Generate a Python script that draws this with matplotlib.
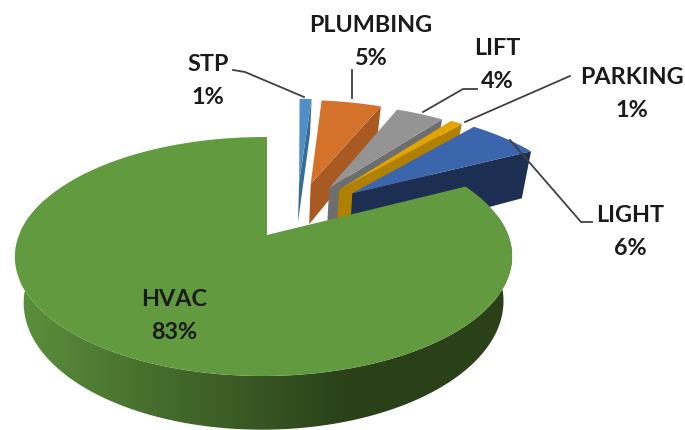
import numpy as np
import matplotlib
matplotlib.use("Agg")
import matplotlib.pyplot as plt
from matplotlib.colors import LinearSegmentedColormap
from matplotlib.patches import Polygon

labels = ["STP", "PLUMBING", "LIFT", "PARKING", "LIGHT", "HVAC"]
values = [1, 5, 4, 1, 6, 83]

top_colors = ["#4F8FC4", "#D4722C", "#949494", "#E2A400", "#3B65AD", "#629B3F"]
face_colors = ["#3A6D96", "#A85A22", "#6E6E6E", "#B08000", "#1C2E52", "#3F6326"]

# pie geometry in pixels, with a simple perspective term
cx, cy = 267, 235
rx, ry, persp, persp_x = 244.5, 115.6, 0.18, 0.014
depth, shrink = 44, 0.965
rotation = 1.5
explode_r = [0.52, 0.52, 0.52, 0.53, 0.54, 0.0]
explode_dir = [16, 22, 32, 37, 44, 0]
face_depth = [1, 1, 1, 1, 1.25, 1]

# label centres and leader lines
label_xy = [(208, 81), (371, 42), (497, 65), (632, 94), (630, 232), (174, 316)]
leaders = [
    [(233, 70), (245, 72), (304, 97)],
    [(352, 70), (352, 98)],
    [(477, 89), (463, 89), (423, 112)],
    [(570, 76), (465, 122)],
    [(510, 140), (581, 222), (592, 222)],
]


def project(u, v, bottom=0):
    w = 1 + persp * v + persp_x * u
    x = cx + rx * u / w
    y = cy - ry * v / w
    if bottom:
        x = cx + (x - cx) * shrink
        y = y + bottom * depth / w
    return x, y


def wedge(t0, t1, off_u, off_v):
    t = np.radians(np.linspace(t0, t1, max(int(abs(t1 - t0)) * 2, 8)))
    u = np.concatenate([[off_u], off_u + np.sin(t)])
    v = np.concatenate([[off_v], off_v + np.cos(t)])
    return np.column_stack(project(u, v))


fig = plt.figure(figsize=(6.85, 4.3), dpi=100)
ax = fig.add_axes([0, 0, 1, 1])
ax.axis("off")

cmap = LinearSegmentedColormap.from_list("wall", ["#5B8F3B", "#4A7330", "#3A5A24", "#2A4019"])

start = rotation
for i, val in enumerate(values):
    end = start + val * 3.6
    d = np.radians(explode_dir[i])
    off_u = explode_r[i] * np.sin(d)
    off_v = explode_r[i] * np.cos(d)

    if labels[i] == "HVAC":
        # curved outer wall, shaded from left to right
        t = np.radians(np.linspace(80, 300, 300))
        tx, ty = project(np.sin(t), np.cos(t))
        bx, by = project(np.sin(t), np.cos(t), bottom=1)
        wall = Polygon(np.column_stack([np.r_[tx, bx[::-1]], np.r_[ty, by[::-1]]]), transform=ax.transData, fc="none", ec="none")
        ax.add_patch(wall)
        grad = ax.imshow(np.clip(np.linspace(0, 1.5, 256), 0, 1)[None, :], cmap=cmap, aspect="auto",
                         extent=(20, 515, 430, 200), zorder=i + 1)
        grad.set_clip_path(wall)
        end = 360
    else:
        # cut face below the clockwise edge
        tr = np.radians(end)
        u = np.array([off_u, off_u + np.sin(tr)])
        v = np.array([off_v, off_v + np.cos(tr)])
        tx, ty = project(u, v)
        bx, by = project(u, v, bottom=face_depth[i])
        ax.fill([tx[0], tx[1], bx[1], bx[0]], [ty[0], ty[1], by[1], by[0]], color=face_colors[i], lw=0, zorder=i + 1)

    top = wedge(start, end, off_u, off_v)
    ax.fill(top[:, 0], top[:, 1], color=top_colors[i], lw=0, zorder=i + 1.5)
    start = end

for line in leaders:
    xs, ys = zip(*line)
    ax.plot(xs, ys, color="#404040", lw=1.3, zorder=10)

for name, val, (x, y) in zip(labels, values, label_xy):
    ax.text(x, y, f"{name}\n{val}%", ha="center", va="center", family="Lato", weight="bold",
            fontsize=16.8, color="#1A1A1A", linespacing=1.75, zorder=11)

ax.set_xlim(0, 685)
ax.set_ylim(430, 0)

fig.savefig("out.png", dpi=100)
